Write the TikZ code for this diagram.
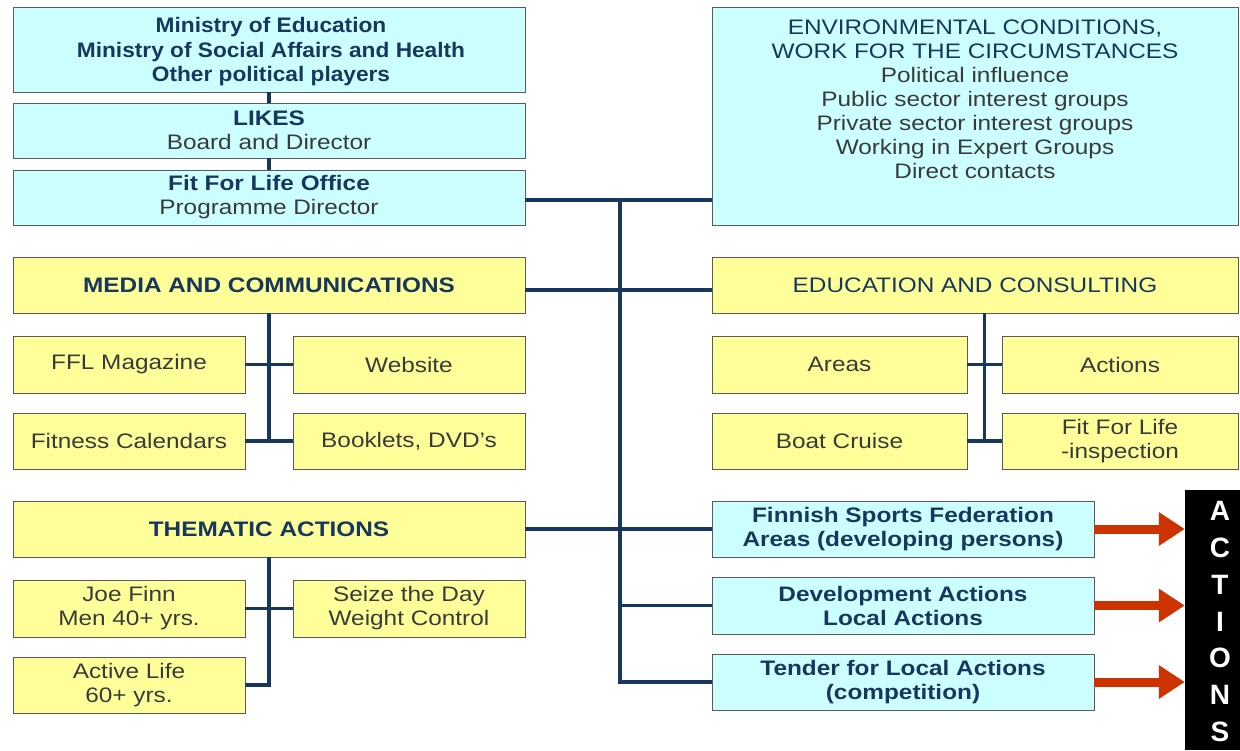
\documentclass[tikz,border=0pt]{standalone}
\usepackage{fontspec}
\setmainfont{Liberation Sans}[FakeStretch=1.16]
\newfontfamily\narrowfont{Liberation Sans}[FakeStretch=1.08]
\newfontfamily\plainfont{Liberation Sans}
\usetikzlibrary{arrows.meta}
\definecolor{cy}{HTML}{CCFFFF}
\definecolor{yl}{HTML}{FFFF99}
\definecolor{nv}{HTML}{17375E}
\definecolor{tx}{HTML}{3A3A3A}
\definecolor{rd}{HTML}{CC3300}
\definecolor{bd}{HTML}{5A5A5A}
\tikzset{
 box/.style={draw=bd, line width=0.9pt, align=center, inner sep=0pt, font=\fontsize{21}{24}\selectfont, text=tx},
 cbox/.style={box, fill=cy},
 ybox/.style={box, fill=yl},
 link/.style={draw=nv, line width=3.5pt},
 redarrow/.style={draw=rd, line width=9pt, -{Triangle[length=26pt,width=32pt]}}
}
\newcommand{\hd}[1]{{\bfseries\color{nv}#1}}
\begin{document}
\begin{tikzpicture}[x=1pt,y=-1pt]
\useasboundingbox[fill=white] (0,0) rectangle (1240,750);
% left column top
\node[cbox, minimum width=512, minimum height=85] (min) at (269,49.5) {};
\node[inner sep=0pt, align=center, font=\narrowfont\fontsize{21}{24.5}\selectfont] (mintext) at (271,52) {\hd{Ministry of Education}\\\hd{Ministry of Social Affairs and Health}\\\hd{Other political players}};
\node[cbox, minimum width=512, minimum height=55] (likes) at (269,130.5) {\hd{LIKES}\\Board and Director};
\node[cbox, minimum width=512, minimum height=55] (ffl) at (269,197.5) {\hd{Fit For Life Office}\\Programme Director};
% environment box
\node[cbox, minimum width=526, minimum height=218] (env) at (975,116) {};
\node[align=center, inner sep=0pt, font=\fontsize{21}{24}\selectfont, text=tx] (envtext) at (975,99) {{\color{nv}ENVIRONMENTAL CONDITIONS,}\\{\color{nv}WORK FOR THE CIRCUMSTANCES}\\Political influence\\Public sector interest groups\\Private sector interest groups\\Working in Expert Groups\\Direct contacts};
% media
\node[ybox, minimum width=512, minimum height=56] (media) at (269,285) {\hd{MEDIA AND COMMUNICATIONS}};
\node[ybox, minimum width=232, minimum height=57] (mag) at (129,364.5) {FFL Magazine};
\node[ybox, minimum width=232, minimum height=57] (web) at (409,364.5) {Website};
\node[ybox, minimum width=232, minimum height=56] (cal) at (129,441) {Fitness Calendars};
\node[ybox, minimum width=232, minimum height=56] (book) at (409,441) {Booklets, DVD's};
% education
\node[ybox, minimum width=526, minimum height=56] (edu) at (975,285) {{\color{nv}EDUCATION AND CONSULTING}};
\node[ybox, minimum width=255, minimum height=57] (areas) at (839.5,364.5) {Areas};
\node[ybox, minimum width=236, minimum height=57] (actions) at (1120,364.5) {Actions};
\node[ybox, minimum width=255, minimum height=56] (boat) at (839.5,441) {Boat Cruise};
\node[ybox, minimum width=236, minimum height=56] (insp) at (1120,441) {Fit For Life\\-inspection};
% thematic
\node[ybox, minimum width=512, minimum height=56] (them) at (269,529) {\hd{THEMATIC ACTIONS}};
\node[ybox, minimum width=232, minimum height=57] (joe) at (129,608.5) {Joe Finn\\Men 40+ yrs.};
\node[ybox, minimum width=232, minimum height=57] (seize) at (409,608.5) {Seize the Day\\Weight Control};
\node[ybox, minimum width=232, minimum height=56] (active) at (129,685) {Active Life\\60+ yrs.};
% right action boxes
\node[cbox, minimum width=382, minimum height=56] (fin) at (903,529) {\hd{Finnish Sports Federation}\\\hd{Areas (developing persons)}};
\node[cbox, minimum width=382, minimum height=57] (dev) at (903,605.5) {\hd{Development Actions}\\\hd{Local Actions}};
\node[cbox, minimum width=382, minimum height=56] (tend) at (903,682) {\hd{Tender for Local Actions}\\\hd{(competition)}};
% ACTIONS bar
\node[fill=black, minimum width=55, minimum height=260, inner sep=0pt] (actbox) at (1212.5,620) {};
\node[inner sep=0pt, align=center, text=white, font=\plainfont\fontsize{28}{36.8}\selectfont\bfseries] (acttext) at (1220,621.5) {A\\C\\T\\I\\O\\N\\S};
% connectors
\draw[link] (min.south) -- (likes.north);
\draw[link] (likes.south) -- (ffl.north);
\coordinate (tk) at (620,200);
\draw[link] (ffl.east |- tk) -- (tk -| env.west);
\draw[link] (tk) |- (tend.west);
\coordinate (mc) at (620,290);
\draw[link] (media.east |- mc) -- (mc -| edu.west);
\draw[link] (them.east) -- (fin.west);
\draw[link] (tk |- dev.west) -- (dev.west);
\draw[link] (media.south) -- (media.south |- cal.east);
\draw[link] (mag.east) -- (web.west);
\draw[link] (cal.east) -- (book.west);
\coordinate (ev) at (984.5,313);
\draw[link] (ev) -- (ev |- boat.east);
\draw[link] (areas.east) -- (actions.west);
\draw[link] (boat.east) -- (insp.west);
\draw[link] (them.south) |- (active.east);
\draw[link] (joe.east) -- (seize.west);
% red arrows
\draw[redarrow] (fin.east) -- (fin.east -| actbox.west);
\draw[redarrow] (dev.east) -- (dev.east -| actbox.west);
\draw[redarrow] (tend.east) -- (tend.east -| actbox.west);
\end{tikzpicture}
\end{document}
